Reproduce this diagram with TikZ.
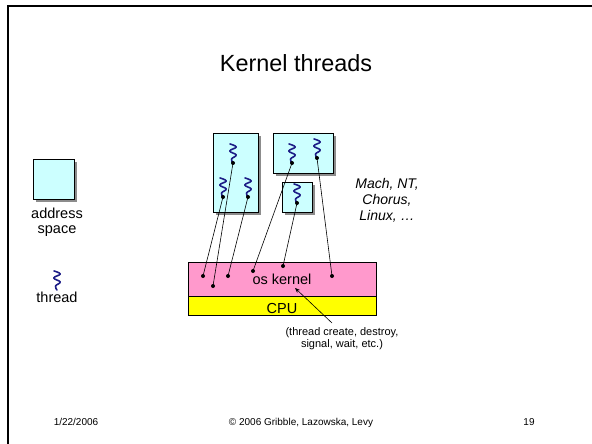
\documentclass[tikz,border=0pt]{standalone}
\usepackage{fontspec}
\setmainfont{Liberation Sans}
\usetikzlibrary{arrows.meta,shadows}
\definecolor{asfill}{HTML}{CCFFFF}
\definecolor{kfill}{HTML}{FF99CC}
\definecolor{cpufill}{HTML}{FFFF00}
\definecolor{thrcol}{HTML}{1C1C86}
\begin{document}
\begin{tikzpicture}[x=1pt,y=-1pt,
  asbox/.style={draw=black, line width=0.6pt, fill=asfill, inner sep=0pt, anchor=north west,
    drop shadow={shadow xshift=2.5pt, shadow yshift=-2.5pt, fill=black!45, opacity=1}},
  layer/.style={draw=black, line width=0.6pt, inner sep=0pt, anchor=north west},
  lbl/.style={anchor=base, inner sep=0pt, font=\fontsize{14.5}{16}\selectfont},
  small/.style={anchor=base, inner sep=0pt, font=\fontsize{11}{13}\selectfont},
  foot/.style={anchor=base, inner sep=0pt, font=\fontsize{10}{12}\selectfont},
  link/.style={draw=black, line width=0.6pt},
  wave/.pic={
    \draw[thrcol, line width=1.6pt, line cap=round, line join=round]
      plot[smooth, tension=0.7] coordinates {(-3,-19) (3.2,-16) (-3.2,-12) (3.2,-8) (-1.5,-4) (0,0)};
  },
  thr/.pic={
    \pic {wave};
    \fill[black] (0,0) circle (2pt);
  },
  kdot/.style={fill=black, circle, inner sep=0pt, minimum size=4pt}
]
\useasboundingbox (0,0) rectangle (592,444);
\fill[white] (0,0) rectangle (592,444);
% frame
\draw[line width=2pt, black] (8,444) -- (8,6) -- (592,6);

% title
\node[anchor=base, inner sep=0pt, font=\fontsize{23.4}{28}\selectfont] (title) at (296,72) {Kernel threads};

% legend
\node[asbox, minimum width=41pt, minimum height=40pt] (legas) at (33,159) {};
\node[lbl] (addr) at (57,218) {address};
\node[lbl] (spc) at (57,233) {space};
\coordinate (legt) at (57,290);
\pic at (legt) {wave};
\node[lbl] (thrlbl) at (57,302) {thread};

% address spaces
\node[asbox, minimum width=45pt, minimum height=79pt] (A) at (213,133) {};
\node[asbox, minimum width=60pt, minimum height=40pt] (B) at (273,133) {};
\node[asbox, minimum width=30pt, minimum height=30pt] (C) at (282,182) {};

% kernel and CPU
\node[layer, fill=kfill, minimum width=188pt, minimum height=34pt] (kern) at (188,262) {};
\node[layer, fill=cpufill, minimum width=188pt, minimum height=19pt] (cpu) at (188,296) {};
\node[lbl] (kt) at (282,284) {os kernel};
\node[lbl] (ct) at (282,313) {CPU};

% threads
\coordinate (ta1) at (233,163);
\coordinate (ta2) at (223,197);
\coordinate (ta3) at (248,197);
\coordinate (tb1) at (292,163);
\coordinate (tb2) at (317,158);
\coordinate (tc1) at (297,203);
\foreach \t in {ta1,ta2,ta3,tb1,tb2,tc1} {\pic at (\t) {thr};}

% kernel dots
\node[kdot] (k1) at (203,276) {};
\node[kdot] (k2) at (213,286) {};
\node[kdot] (k3) at (228,276) {};
\node[kdot] (k4) at (253,271) {};
\node[kdot] (k5) at (283,266) {};
\node[kdot] (k6) at (332,276) {};

\draw[link] (ta2) -- (k1.center);
\draw[link] (ta1) -- (k2.center);
\draw[link] (ta3) -- (k3.center);
\draw[link] (tb1) -- (k4.center);
\draw[link] (tc1) -- (k5.center);
\draw[link] (tb2) -- (k6.center);

% systems
\node[lbl, font=\fontsize{14}{16}\itshape] (s1) at (387,188) {Mach, NT,};
\node[lbl, font=\fontsize{14}{16}\itshape] (s2) at (387,204) {Chorus,};
\node[lbl, font=\fontsize{14}{16}\itshape] (s3) at (387,220) {Linux, …};

% note
\node[small] (n1) at (342,335) {(thread create, destroy,};
\node[small] (n2) at (342,347) {signal, wait, etc.)};
\coordinate (arrS) at (332,323);
\coordinate (arrE) at (295,288);
\draw[link, -{Stealth[length=5pt,width=4pt]}] (arrS) -- (arrE);

% footer
\node[foot] (f1) at (76,425) {1/22/2006};
\node[foot] (f2) at (301,425) {© 2006 Gribble, Lazowska, Levy};
\node[foot] (f3) at (529,425) {19};
\end{tikzpicture}
\end{document}
